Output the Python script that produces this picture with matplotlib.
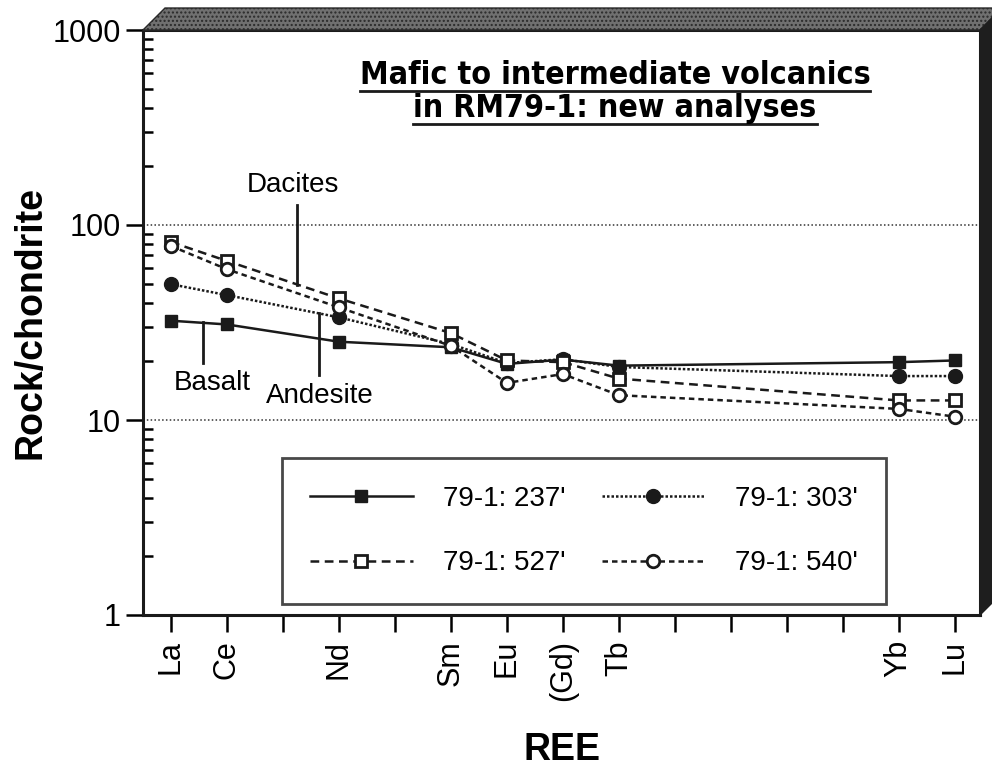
import matplotlib
matplotlib.use('Agg')
import matplotlib.pyplot as plt
import numpy as np
from matplotlib.patches import Polygon
from matplotlib.lines import Line2D

# REE positions along x (La .. Lu), only some labelled
ree_labels = ['La', 'Ce', '', 'Nd', '', 'Sm', 'Eu', '(Gd)', 'Tb', '', '', '', '', 'Yb', 'Lu']
meas_idx = [0, 1, 3, 5, 6, 7, 8, 13, 14]   # La Ce Nd Sm Eu Gd Tb Yb Lu

s237 = [32.3, 30.9, 25.2, 23.6, 19.4, 20.4, 19.0, 19.8, 20.2]
s303 = [49.7, 43.7, 33.6, 24.5, 19.6, 20.5, 18.7, 16.8, 16.8]
s527 = [81.8, 65.4, 42.0, 27.9, 20.2, 19.8, 16.3, 12.6, 12.6]
s540 = [78.0, 59.3, 37.8, 24.0, 15.5, 17.2, 13.4, 11.4, 10.4]

names = ["79-1: 237'", "79-1: 303'", "79-1: 527'", "79-1: 540'"]

plt.rcParams['font.family'] = ['Liberation Sans', 'DejaVu Sans']

fig = plt.figure(figsize=(9.92, 7.68), dpi=100)
W, H = 992.0, 768.0
L, R, T, B = 143, 980, 30, 615
ax = fig.add_axes([L / W, 1 - B / H, (R - L) / W, (B - T) / H])

# shadow behind the frame
off = 22
top_sh = Polygon([(L / W, 1 - T / H), ((L + off) / W, 1 - (T - off) / H),
                  ((R + off) / W, 1 - (T - off) / H), (R / W, 1 - T / H)],
                 closed=True, transform=fig.transFigure, facecolor='#707070',
                 edgecolor='#2a2a2a', hatch='....', lw=1, zorder=0)
right_sh = Polygon([(R / W, 1 - T / H), ((R + off) / W, 1 - (T - off) / H),
                    ((R + off) / W, 1 - (B - off) / H), (R / W, 1 - B / H)],
                   closed=True, transform=fig.transFigure, facecolor='#1e1e1e',
                   edgecolor='#1e1e1e', lw=1, zorder=0)
fig.patches.extend([top_sh, right_sh])

x = np.array(meas_idx)
lw = 1.8
h1, = ax.plot(x, s237, color='#1a1a1a', lw=lw, ls='-', marker='s', ms=9,
              mfc='#1a1a1a', mec='#1a1a1a', label=names[0])
h2, = ax.plot(x, s303, color='#1a1a1a', lw=lw, ls=(0, (1, 0.8)), marker='o', ms=10,
              mfc='#1a1a1a', mec='#1a1a1a', label=names[1])
h3, = ax.plot(x, s527, color='#1a1a1a', lw=lw, ls=(0, (3.5, 2.2)), marker='s', ms=9,
              mfc='white', mec='#1a1a1a', mew=2, label=names[2])
h4, = ax.plot(x, s540, color='#1a1a1a', lw=lw, ls=(0, (2.2, 1.6)), marker='o', ms=9,
              mfc='white', mec='#1a1a1a', mew=2, label=names[3])

for yv in [10, 100]:
    ax.axhline(yv, color='#333333', lw=1.1, ls=(0, (1, 1.5)), zorder=0)

ax.set_yscale('log')
ax.set_ylim(1, 1000)
ax.set_xlim(-0.5, 14.45)
ax.set_yticks([1, 10, 100, 1000])
ax.set_yticklabels(['1', '10', '100', '1000'])
ax.yaxis.set_minor_locator(matplotlib.ticker.LogLocator(base=10, subs=np.arange(2, 10)))
ax.yaxis.set_minor_formatter(matplotlib.ticker.NullFormatter())
ax.tick_params(axis='y', which='major', direction='out', length=12, width=1.8,
               labelsize=22, pad=4)
ax.tick_params(axis='y', which='minor', direction='in', length=7, width=1.8)
ax.set_xticks(range(len(ree_labels)))
ax.set_xticklabels(ree_labels, rotation=90, fontsize=22)
ax.tick_params(axis='x', direction='out', length=12, width=1.8, pad=6)
for sp in ax.spines.values():
    sp.set_linewidth(2.2)
    sp.set_color('#1a1a1a')

ax.set_ylabel('Rock/chondrite', fontsize=27, fontweight='bold', labelpad=3)
ax.set_xlabel('REE', fontsize=27, fontweight='bold', labelpad=22)

# rock type annotations
ax.text(2.18, 160, 'Dacites', fontsize=20, ha='center', va='center')
ax.plot([2.25, 2.25], [127, 49], color='#1a1a1a', lw=2)
ax.text(0.73, 15.5, 'Basalt', fontsize=20, ha='center', va='center')
ax.plot([0.57, 0.57], [31.8, 19.6], color='#1a1a1a', lw=2)
ax.text(2.66, 13.3, 'Andesite', fontsize=20, ha='center', va='center')
ax.plot([2.64, 2.64], [35.4, 17.0], color='#1a1a1a', lw=2)

# legend filled column-wise, so order gives rows 237/303 and 527/540
leg = ax.legend([h1, h3, h2, h4], [names[0], names[2], names[1], names[3]],
                ncol=2, loc='center',
                bbox_to_anchor=((584 - L) / (R - L), 1 - (531 - T) / (B - T)),
                fontsize=20, frameon=True, fancybox=False, handlelength=3.7,
                handletextpad=1.1, columnspacing=1.3, labelspacing=1.4,
                borderpad=1.0, borderaxespad=0, numpoints=1)
leg.get_frame().set_edgecolor('#1a1a1a')
leg.get_frame().set_linewidth(2)

# underlined title
cx = 615 / W
tkw = dict(family='DejaVu Sans', fontstretch='condensed', fontweight='bold',
           fontsize=23, ha='center', va='baseline')
t1 = fig.text(cx, 1 - 84 / H, 'Mafic to intermediate volcanics', **tkw)
t2 = fig.text(cx, 1 - 117 / H, 'in RM79-1: new analyses', **tkw)
fig.canvas.draw()
r = fig.canvas.get_renderer()
for t, uy in [(t1, 91), (t2, 124)]:
    bb = t.get_window_extent(r)
    fig.add_artist(Line2D([bb.x0 / W, bb.x1 / W], [1 - uy / H, 1 - uy / H],
                          transform=fig.transFigure, color='#1a1a1a', lw=2))

fig.savefig('out.png', dpi=100)
